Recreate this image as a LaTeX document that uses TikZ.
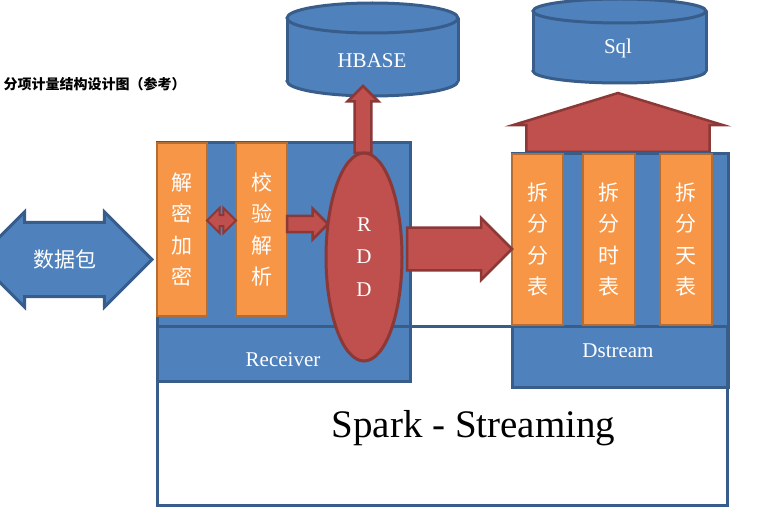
\documentclass[tikz,border=0pt]{standalone}
\usepackage{fontspec}
\setmainfont{Liberation Serif}
\newfontfamily\cjk{Noto Sans CJK SC}
\usetikzlibrary{shapes.geometric,shapes.arrows}

\definecolor{boxblue}{HTML}{4F81BD}
\definecolor{boxline}{HTML}{385D8A}
\definecolor{orfill}{HTML}{F79646}
\definecolor{orline}{HTML}{B66D31}
\definecolor{redfill}{HTML}{C0504D}
\definecolor{redline}{HTML}{8C3836}

\tikzset{
	bluebox/.style={rectangle, draw=boxline, fill=boxblue, line width=3pt, inner sep=0pt},
	orangebox/.style={rectangle, draw=orline, fill=orfill, line width=2.5pt, inner sep=0pt,
		text=white, align=center, font=\cjk\fontsize{21}{31.5}\selectfont},
	dbend/.style={ellipse, draw=boxline, fill=boxblue, line width=3pt, inner sep=0pt, outer sep=0pt},
	whitetext/.style={text=white, font=\fontsize{21}{21}\selectfont},
	redarrow/.style={single arrow, single arrow tip angle=90, draw=redline, fill=redfill,
		line width=2.5pt, inner sep=0pt, outer sep=0pt, anchor=tip},
	redswap/.style={double arrow, double arrow tip angle=90, draw=redline, fill=redfill,
		line width=2pt, inner sep=0pt}
}

\begin{document}
\begin{tikzpicture}[x=1pt, y=-1pt]
	\useasboundingbox (0,0) rectangle (763,516);

	\node[anchor=west, font=\cjk\bfseries\fontsize{14}{14}\selectfont] (title) at (0,84) {分项计量结构设计图（参考）};

	% databases
	\node[dbend, minimum width=171pt, minimum height=30pt] (hbasebot) at (372.5,81) {};
	\fill[boxblue] (hbasebot.west) rectangle ++(171,-63);
	\draw[boxline, line width=3pt] (hbasebot.west) -- ++(0,-63) (hbasebot.east) -- ++(0,-63);
	\node[dbend, minimum width=171pt, minimum height=30pt] (hbasetop) at (372.5,18) {};
	\node[whitetext] (hbaselabel) at (372,61) {HBASE};

	\node[dbend, minimum width=173pt, minimum height=24pt] (sqlbot) at (619.5,71) {};
	\fill[boxblue] (sqlbot.west) rectangle ++(173,-60);
	\draw[boxline, line width=3pt] (sqlbot.west) -- ++(0,-60) (sqlbot.east) -- ++(0,-60);
	\node[dbend, minimum width=173pt, minimum height=24pt] (sqltop) at (619.5,11) {};
	\node[whitetext] (sqllabel) at (618,48) {Sql};

	\node[redarrow, rotate=90, single arrow tip angle=146, minimum height=59pt, minimum width=210pt,
		text height=47.5pt, text depth=47.5pt] (toSql) at (618,93) {};

	% receiver, dstream and the spark frame
	\node[bluebox, minimum width=253pt, minimum height=238pt] (receiver) at (283.5,262) {};
	\node[whitetext] (recvlabel) at (283,360) {Receiver};
	\node[bluebox, minimum width=216pt, minimum height=233pt] (dstream) at (620,270.5) {};
	\node[whitetext] (dstreamlabel) at (618,351) {Dstream};
	\node[rectangle, draw=boxline, line width=3pt, minimum width=570pt, minimum height=179pt] (spark) at (442,415.5) {};
	\node[anchor=base, font=\fontsize{39}{39}\selectfont] (sparklabel) at (473.5,437) {Spark - Streaming};

	\node[orangebox, minimum width=50pt, minimum height=173pt] (jiemi) at (182,229.5) {解\\密\\加\\密};
	\node[orangebox, minimum width=51pt, minimum height=173pt] (jiaoyan) at (261.5,229.5) {校\\验\\解\\析};
	\node[orangebox, minimum width=51pt, minimum height=171pt] (fenbiao) at (537.5,239.5) {拆\\分\\分\\表};
	\node[orangebox, minimum width=52pt, minimum height=171pt] (shibiao) at (609,239.5) {拆\\分\\时\\表};
	\node[orangebox, minimum width=52pt, minimum height=171pt] (tianbiao) at (686,239.5) {拆\\分\\天\\表};

	% data packet in and out
	\node[double arrow, double arrow tip angle=90, draw=boxline, fill=boxblue, line width=3pt, inner sep=0pt,
		minimum height=175pt, minimum width=95pt, text height=32pt, text depth=16pt,
		text=white, font=\cjk\fontsize{21}{21}\selectfont] (shujubao) at (64.5,259.5) {数据包};

	% arrows between the stages
	\node[redswap, minimum height=29pt, minimum width=17pt, text height=4.5pt, text depth=4.5pt] (swap) at (221.5,220.5) {};
	\node[redarrow, minimum height=41pt, minimum width=31pt, text height=6.5pt, text depth=6.5pt] (toRDD) at (328,224) {};
	\node[redarrow, rotate=90, minimum height=67pt, minimum width=31pt, text height=7pt, text depth=7pt] (toHbase) at (363,86) {};

	\node[ellipse, draw=redline, fill=redfill, line width=3pt, inner sep=0pt, minimum width=76pt, minimum height=208pt,
		align=center, text=white, font=\fontsize{21}{32.5}\selectfont] (rdd) at (364,257) {R\\D\\D};

	\node[redarrow, minimum height=105pt, minimum width=62pt, text height=14.5pt, text depth=14.5pt] (toDstream) at (512,249) {};
\end{tikzpicture}
\end{document}
